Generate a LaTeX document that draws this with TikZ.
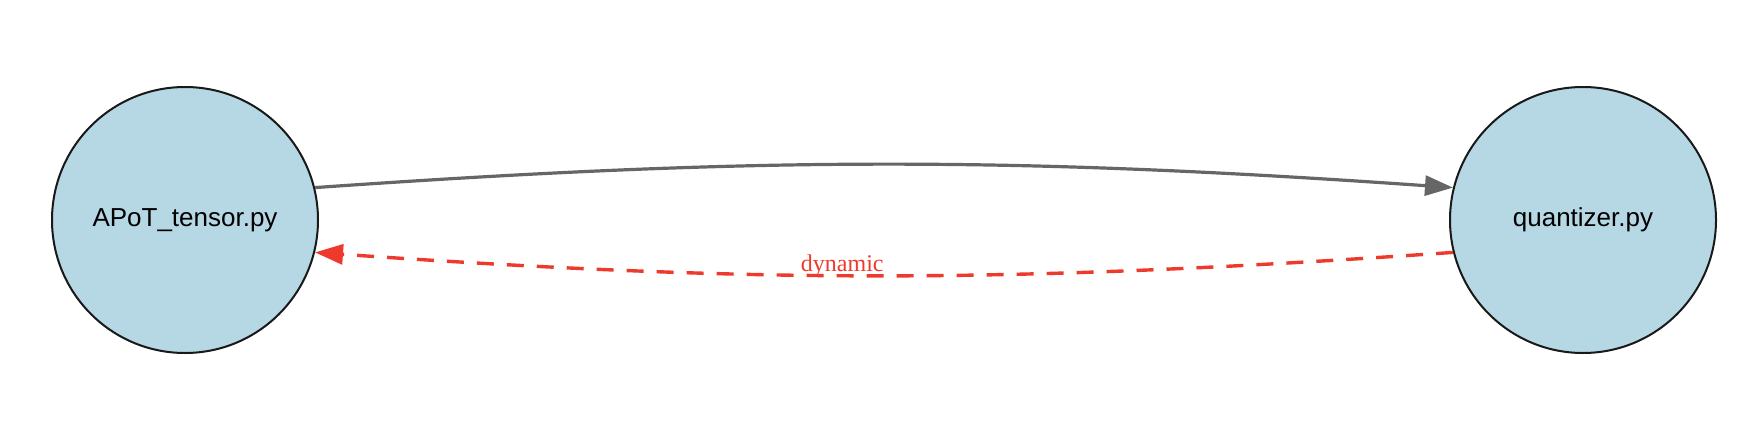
\documentclass[tikz,border=0pt]{standalone}
\usepackage{fontspec}
\setmainfont{Liberation Serif}
\setsansfont{Liberation Sans}
\usepackage{tikz}
\usetikzlibrary{arrows.meta}
\definecolor{nodefill}{HTML}{B6D7E4}
\definecolor{edgegray}{HTML}{666666}
\definecolor{dynred}{HTML}{EE3A2C}

\begin{document}
\begin{tikzpicture}[x=1pt,y=1pt]
\tikzstyle{module}=[circle,draw=black!90,line width=1pt,fill=nodefill,minimum size=133pt,inner sep=0pt,font=\sffamily\fontsize{13}{15}\selectfont]
\tikzstyle{import}=[draw=edgegray,line width=1.6pt,-{Triangle[length=14pt,width=10pt]}]
\tikzstyle{dynamic}=[draw=dynred,line width=1.7pt,dash pattern=on 8.5pt off 6.5pt,-{Triangle[length=14pt,width=10pt]}]
\useasboundingbox (0,0) rectangle (878,223);
\node[module] (apot) at (92.5,113) {APoT\_tensor.py};
\node[module] (quant) at (791.5,113) {quantizer.py};
\draw[import] (apot.14) to[out=4,in=176] (quant.166);
\draw[dynamic] (quant.194) to[out=184,in=-4]
    node[pos=0.54,above=-1.5pt,inner sep=0pt,text=dynred,font=\fontsize{12}{14}\selectfont] (lbl) {dynamic}
    (apot.-14);
\end{tikzpicture}
\end{document}
